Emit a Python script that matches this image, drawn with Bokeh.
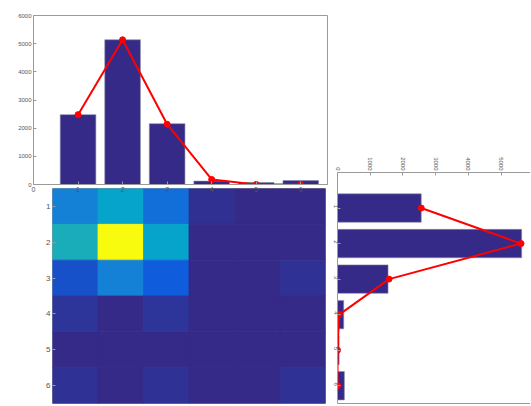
import numpy as np
from bokeh.plotting import figure
from bokeh.models import Range1d, FixedTicker, LinearAxis, ColumnDataSource
from bokeh.layouts import row, column
from bokeh.embed import file_html
from bokeh.resources import INLINE
from bokeh.transform import linear_cmap

# ---- data ----
categories = [1, 2, 3, 4, 5, 6]
col_totals = [2480, 5138, 2160, 120, 70, 140]      # top histogram bars
col_fit = [2480, 5138, 2140, 180, 0, 0]             # top red line
row_totals = [2560, 5630, 1545, 190, 50, 210]       # right histogram bars
row_fit = [2560, 5610, 1575, 50, 0, 0]              # right red line
heat_row1 = [800, 1180, 600, 60, 0, 0]
heat_row2 = [1360, 3160, 1180, 0, 0, 0]
heat_row3 = [320, 790, 400, 0, 0, 65]
heat_row4 = [95, 0, 95, 0, 0, 0]
heat_row5 = [0, 0, 0, 0, 0, 0]
heat_row6 = [70, 0, 70, 0, 0, 70]
value_ticks = [0, 1000, 2000, 3000, 4000, 5000, 6000]
cat_ticks = [0, 1, 2, 3, 4, 5, 6]

# ---- styling ----
FONT = "Liberation Sans"
TXT = "#555555"
LINE = "#9a9a9a"
BAR = "#352a87"
RED = "#ff0000"

stops = ['#352a87', '#0f5cdd', '#1481d6', '#06a4ca', '#2eb7a4',
         '#87bf77', '#d1bb59', '#fec832', '#f9fb0e']
def _rgb(h):
    return [int(h[i:i + 2], 16) for i in (1, 3, 5)]
stop_rgb = np.array([_rgb(s) for s in stops], dtype=float)
tpos = np.linspace(0, 1, len(stops))
palette = []
for t in np.linspace(0, 1, 256):
    c = [int(round(np.interp(t, tpos, stop_rgb[:, k]))) for k in range(3)]
    palette.append("#%02x%02x%02x" % tuple(c))


def style_axis(ax, size="7px"):
    ax.major_label_text_font = FONT
    ax.major_label_text_font_size = size
    ax.major_label_text_color = TXT
    ax.axis_line_color = LINE
    ax.major_tick_line_color = LINE
    ax.minor_tick_line_color = None
    ax.major_tick_in = 3
    ax.major_tick_out = 0
    ax.major_label_standoff = 2


def base(p):
    p.toolbar.logo = None
    p.xgrid.visible = False
    p.ygrid.visible = False
    p.outline_line_color = LINE
    p.background_fill_color = "white"


# ---- top histogram ----
p1 = figure(width=328, height=196, x_range=Range1d(0, 6.6), y_range=Range1d(0, 6000),
            output_backend="svg", toolbar_location=None,
            min_border_left=33, min_border_right=1, min_border_top=15, min_border_bottom=12)
base(p1)
p1.border_fill_alpha = 0
p1.vbar(x=categories, top=col_totals, width=0.8, fill_color=BAR, line_color="#8a8aa8", line_width=0.6)
p1.line(x=categories, y=col_fit, line_color=RED, line_width=2)
p1.scatter(x=categories, y=col_fit, size=6, fill_color=RED, line_color=RED)
p1.xaxis.ticker = FixedTicker(ticks=cat_ticks)
p1.yaxis.ticker = FixedTicker(ticks=value_ticks)
style_axis(p1.xaxis[0], "7px")
style_axis(p1.yaxis[0], "6px")
p1.styles = {"z-index": "1", "position": "relative"}

# ---- heatmap ----
xs, ys, vs = [], [], []
for r, vals in enumerate([heat_row1, heat_row2, heat_row3, heat_row4, heat_row5, heat_row6], start=1):
    for c, v in zip(categories, vals):
        xs.append(c)
        ys.append(r)
        vs.append(v)
src = ColumnDataSource(dict(x=xs, y=ys, v=vs))
p2 = figure(width=328, height=216, x_range=Range1d(0.5, 6.5), y_range=Range1d(6.5, 0.5),
            output_backend="svg", toolbar_location=None, x_axis_location=None,
            min_border_left=52, min_border_right=3, min_border_top=0, min_border_bottom=1)
base(p2)
cmap = linear_cmap("v", palette, 0, max(vs))
p2.rect(x="x", y="y", width=1, height=1, source=src, line_color=cmap, line_width=0.8,
        fill_color=cmap)
p2.yaxis.ticker = FixedTicker(ticks=categories)
style_axis(p2.yaxis[0], "8px")
p2.yaxis.axis_line_color = None
p2.margin = (-8, 0, 0, 0)

# ---- right histogram ----
p3 = figure(width=202, height=404, x_range=Range1d(0, 5900), y_range=Range1d(6.5, 0),
            output_backend="svg", toolbar_location=None, x_axis_location="above",
            min_border_left=8, min_border_right=0, min_border_top=172, min_border_bottom=1)
base(p3)
p3.outline_line_color = None
p3.hbar(y=categories, right=row_totals, height=0.8, fill_color=BAR, line_color="#8a8aa8", line_width=0.6)
p3.line(x=row_fit, y=categories, line_color=RED, line_width=2)
p3.scatter(x=row_fit, y=categories, size=6, fill_color=RED, line_color=RED)
p3.xaxis.ticker = FixedTicker(ticks=value_ticks)
p3.yaxis.ticker = FixedTicker(ticks=categories)
style_axis(p3.xaxis[0], "6px")
style_axis(p3.yaxis[0], "6px")
p3.xaxis.major_label_orientation = -np.pi / 2
p3.yaxis.major_label_orientation = -np.pi / 2
bottom_ax = LinearAxis(ticker=FixedTicker(ticks=[]), major_tick_in=0, major_tick_out=0,
                       major_label_standoff=0, major_label_text_font_size="0px",
                       axis_line_color=LINE)
p3.add_layout(bottom_ax, "below")

layout = row(column(row(p1), row(p2)), p3)
open("out.html", "w").write(file_html(layout, INLINE))
